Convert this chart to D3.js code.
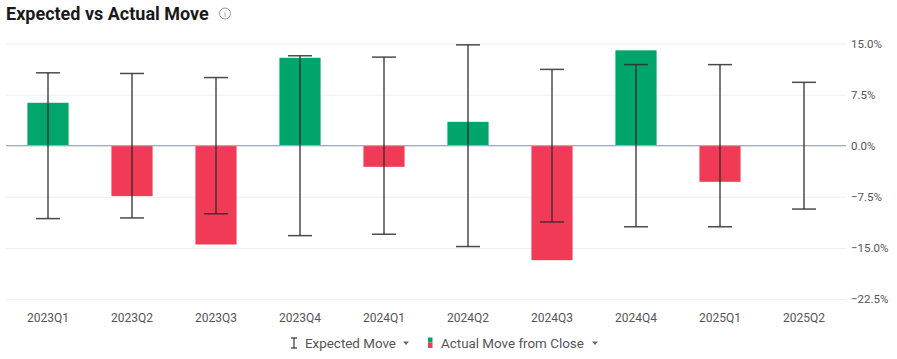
<!DOCTYPE html>
<html>
<head>
<meta charset="utf-8">
<script src="https://cdn.jsdelivr.net/npm/d3@7"></script>
<style>
  body { margin: 0; background: #fff; font-family: Roboto, "Noto Sans", sans-serif; }
  svg { display: block; }
</style>
</head>
<body>
<svg width="897" height="359"></svg>
<script>
// data
const quarters = ["2023Q1", "2023Q2", "2023Q3", "2023Q4", "2024Q1", "2024Q2", "2024Q3", "2024Q4", "2025Q1", "2025Q2"];
const actualMove = [6.3, -7.4, -14.5, 12.9, -3.1, 3.5, -16.8, 14.0, -5.3, null];
const expectedMove = [10.7, 10.6, 10.0, 13.2, 13.0, 14.8, 11.2, 11.9, 11.9, 9.3];
const yTicks = [15, 7.5, 0, -7.5, -15, -22.5];

const svg = d3.select("svg");
const plotLeft = 6, plotRight = 846, plotTop = 43.5, plotBottom = 299;

const x = d3.scaleBand()
    .domain(quarters)
    .range([plotLeft, plotRight])
    .paddingInner(0.51)
    .paddingOuter(0.255);
const y = d3.scaleLinear()
    .domain([-22.5, 15])
    .range([plotBottom, plotTop]);

// title
svg.append("text")
    .attr("x", 6)
    .attr("y", 20)
    .attr("font-size", "18px")
    .attr("font-weight", "bold")
    .attr("fill", "#1a1a1a")
    .text("Expected vs Actual Move");

const info = svg.append("g").attr("transform", "translate(225,13.5)");
info.append("circle").attr("r", 5.5).attr("fill", "none").attr("stroke", "#999").attr("stroke-width", 1);
info.append("text").attr("y", 3).attr("text-anchor", "middle").attr("font-size", "8px")
    .attr("fill", "#999").text("i");

// grid + right axis
const yAxis = svg.append("g")
    .attr("transform", "translate(" + plotRight + ",0)")
    .call(d3.axisRight(y).tickValues(yTicks).tickSize(-(plotRight - plotLeft)).tickPadding(5)
        .tickFormat(d => d3.format(".1f")(d) + "%"));
yAxis.select(".domain").remove();
yAxis.selectAll("line").attr("stroke", "#efefef");
yAxis.selectAll("text").attr("fill", "#555").attr("font-size", "11.5px")
    .attr("font-family", "Roboto, sans-serif");

// bars
svg.selectAll(".bar")
    .data(quarters.map((q, i) => ({q: q, v: actualMove[i]})).filter(d => d.v !== null))
    .enter().append("rect")
    .attr("class", "bar")
    .attr("x", d => x(d.q))
    .attr("y", d => y(Math.max(0, d.v)))
    .attr("width", x.bandwidth())
    .attr("height", d => Math.abs(y(d.v) - y(0)))
    .attr("fill", d => d.v >= 0 ? "#00a56c" : "#f03a56");

// zero line
svg.append("line")
    .attr("x1", plotLeft).attr("x2", plotRight)
    .attr("y1", y(0)).attr("y2", y(0))
    .attr("stroke", "#a3adc2").attr("stroke-width", 1.2);

// error bars
const capW = 12;
const err = svg.selectAll(".err")
    .data(quarters.map((q, i) => ({q: q, e: expectedMove[i]})))
    .enter().append("g")
    .attr("class", "err")
    .attr("transform", d => "translate(" + (x(d.q) + x.bandwidth() / 2) + ",0)")
    .attr("stroke", "#2b2b2b")
    .attr("stroke-opacity", 0.85)
    .attr("stroke-width", 1.5);
err.append("line").attr("y1", d => y(d.e)).attr("y2", d => y(-d.e));
err.append("line").attr("x1", -capW).attr("x2", capW).attr("y1", d => y(d.e)).attr("y2", d => y(d.e));
err.append("line").attr("x1", -capW).attr("x2", capW).attr("y1", d => y(-d.e)).attr("y2", d => y(-d.e));

// x labels
svg.append("g")
    .attr("transform", "translate(0,305)")
    .call(d3.axisBottom(x).tickSize(0).tickPadding(8))
    .call(g => g.select(".domain").remove())
    .selectAll("text")
    .attr("fill", "#555")
    .attr("font-size", "12px")
    .attr("font-family", "Roboto, sans-serif");

// legend
const leg = svg.append("g").attr("font-size", "13.4px").attr("fill", "#555");
const ic = leg.append("g").attr("stroke", "#333").attr("stroke-width", 1.2);
ic.append("line").attr("x1", 294).attr("x2", 294).attr("y1", 338).attr("y2", 348);
ic.append("line").attr("x1", 291).attr("x2", 297).attr("y1", 338).attr("y2", 338);
ic.append("line").attr("x1", 291).attr("x2", 297).attr("y1", 348).attr("y2", 348);
leg.append("text").attr("x", 305).attr("y", 347.5).text("Expected Move");
leg.append("path").attr("d", "M403,341.5 l6,0 l-3,3.5z").attr("fill", "#666");
leg.append("rect").attr("x", 428).attr("y", 337.5).attr("width", 4.5).attr("height", 5).attr("fill", "#00a56c");
leg.append("rect").attr("x", 428).attr("y", 342.5).attr("width", 4.5).attr("height", 5.5).attr("fill", "#f03a56");
leg.append("text").attr("x", 441).attr("y", 347.5).text("Actual Move from Close");
leg.append("path").attr("d", "M592,341.5 l6,0 l-3,3.5z").attr("fill", "#666");
</script>
</body>
</html>
